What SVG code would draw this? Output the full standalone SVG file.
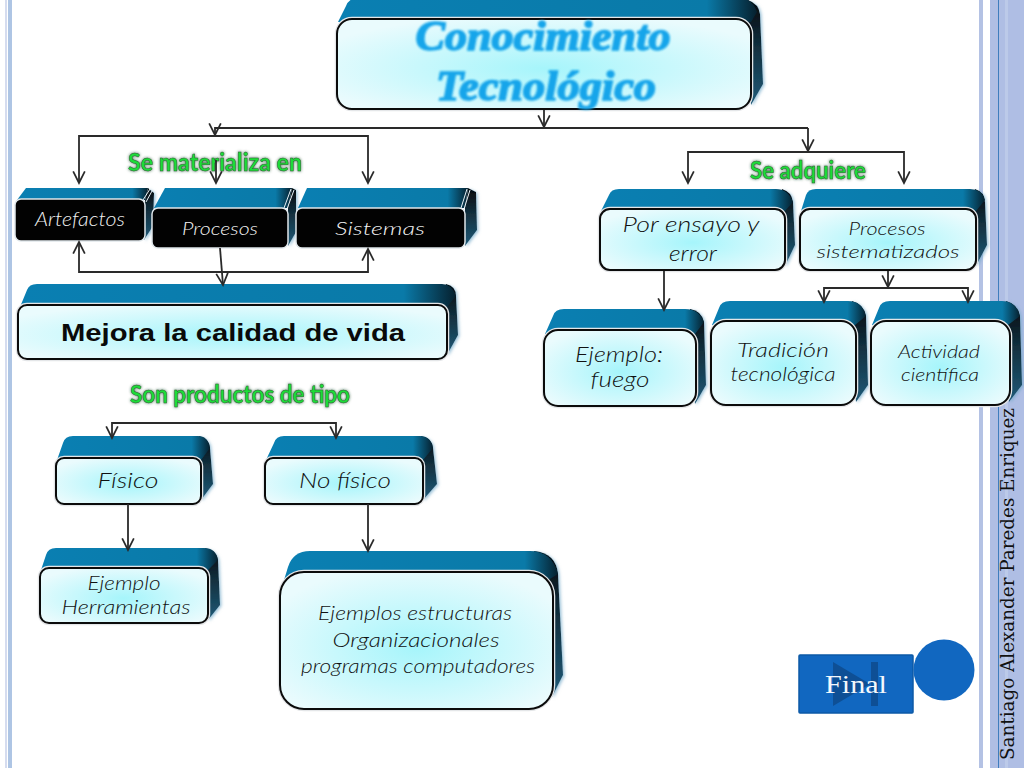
<svg xmlns="http://www.w3.org/2000/svg" width="1024" height="768" viewBox="0 0 1024 768">
<style>
.top{fill:url(#gTop)}
.side{fill:url(#gSide);filter:url(#sh)}
.halo{fill:none;stroke:#e4e6e8;stroke-width:4.5}
.front{fill:url(#gFront);stroke:#0b0b0b;stroke-width:2}
.dark{fill:#020202;stroke:#dfe6ea;stroke-width:1.5}
.stripe{fill:none;stroke:#e8f2f7;stroke-width:1}
.hand{font-family:"Lato","Noto Sans",sans-serif;font-style:italic;font-weight:300;fill:#111;text-anchor:middle}
.w{fill:#f2f2f2}
.green{font-family:"Lato","Noto Sans",sans-serif;font-weight:700;fill:#1fdc38;stroke:#2b5d33;stroke-width:.5;filter:url(#glow)}
.title{font-family:"Liberation Serif",serif;font-style:italic;font-weight:700;font-size:42px;fill:#14a5ea;stroke:#14a5ea;stroke-width:1.6;filter:url(#soft)}
.c{fill:none;stroke:#2a2a2a;stroke-width:1.8;marker-end:url(#v)}
</style>
<defs>
<linearGradient id="gTop" x1="0" x2="1" y1="0" y2="0"><stop offset="0" stop-color="#0a7fb2"/><stop offset=".88" stop-color="#0a7aa8"/><stop offset="1" stop-color="#06202e"/></linearGradient>
<linearGradient id="gSide" x1="0" x2="0" y1="0" y2="1"><stop offset="0" stop-color="#04090d"/><stop offset=".45" stop-color="#12303f"/><stop offset="1" stop-color="#1f5a78"/></linearGradient>
<radialGradient id="gFront" cx=".5" cy=".55" r=".6"><stop offset="0" stop-color="#a6f5fb"/><stop offset="1" stop-color="#eafbfd"/></radialGradient>
<filter id="glow" x="-10%" y="-30%" width="120%" height="160%"><feGaussianBlur in="SourceAlpha" stdDeviation="1.4" result="b"/><feFlood flood-color="#1d4a2a" flood-opacity=".8"/><feComposite in2="b" operator="in" result="s"/><feMerge><feMergeNode in="s"/><feMergeNode in="SourceGraphic"/></feMerge></filter>
<filter id="soft" x="-5%" y="-20%" width="110%" height="140%"><feGaussianBlur stdDeviation="1"/></filter>
<filter id="sh" x="-30%" y="-10%" width="170%" height="120%"><feDropShadow dx="1.5" dy="1" stdDeviation="1.5" flood-color="#6fa8c8" flood-opacity=".7"/></filter>
<marker id="v" markerUnits="userSpaceOnUse" markerWidth="16" markerHeight="14" refX="11" refY="6" orient="auto" viewBox="0 0 12 12"><path d="M1 1 11 6 1 11" fill="none" stroke="#2a2a2a" stroke-width="1.5"/></marker>
</defs>
<rect width="1024" height="768" fill="#fff"/>
<g id="frame">
<rect x="5" y="0" width="2" height="768" fill="#d5dcef"/>
<rect x="8" y="0" width="4" height="768" fill="#aec5e4"/>
<rect x="979" y="0" width="4" height="768" fill="#b4c2e4"/>
<rect x="990" y="0" width="34" height="768" fill="#afbee4"/>
<rect x="998" y="0" width="1" height="768" fill="#3f7dbd"/>
<rect x="1005" y="0" width="3" height="768" fill="#bccae9"/>
</g>
<g id="author"><text transform="translate(1014 760) rotate(-90)" font-family="'DejaVu Serif','Liberation Serif',serif" font-size="19" fill="#111" textLength="352" lengthAdjust="spacingAndGlyphs">Santiago Alexander Paredes Enriquez</text></g>

<g id="n-title">
<path class="side" d="M745 20 748 0Q759 4 760 14L763 84 751 105Z"/>
<path class="top" d="M338 22 346 6Q349 -2 358 -2L740 -2Q752 -2 757 12L751 22Z"/>
<rect class="halo" x="337" y="19" width="414" height="90" rx="15"/><rect class="front" x="337" y="19" width="414" height="90" rx="15"/>
<text class="title" x="543" y="50" text-anchor="middle" textLength="255" lengthAdjust="spacingAndGlyphs">Conocimiento</text>
<text class="title" x="546" y="100" text-anchor="middle" textLength="220" lengthAdjust="spacingAndGlyphs">Tecnológico</text>
</g>
<g id="n-artefactos">
<path class="side" d="M145 200 148 188 154 193 153 226 144 240Z"/>
<polygon class="top" points="17,200 26,188 148,188 145,200"/>
<polyline class="stripe" points="143,200 150,189"/><polyline class="stripe" points="146,202 152,191"/>
<rect class="dark" x="15" y="199" width="130" height="42" rx="6"/>
<text class="hand w" font-size="19" x="80" y="226" textLength="90" lengthAdjust="spacingAndGlyphs">Artefactos</text>
</g>
<g id="n-procesos">
<path class="side" d="M288 208 292 188 296 190 296 232 288 246Z"/>
<polygon class="top" points="154,208 165,188 292,188 288,208"/>
<polyline class="stripe" points="284,208 291,189"/><polyline class="stripe" points="287,209 294,190"/>
<rect class="dark" x="152" y="208" width="136" height="40" rx="6"/>
<text class="hand w" font-size="18" x="220" y="235" textLength="76" lengthAdjust="spacingAndGlyphs">Procesos</text>
</g>
<g id="n-sistemas">
<path class="side" d="M465 208 468 188 476 192 477 230 465 246Z"/>
<polygon class="top" points="298,208 307,188 468,188 465,208"/>
<polyline class="stripe" points="461,208 467,189"/><polyline class="stripe" points="464,209 470,190"/>
<rect class="dark" x="296" y="208" width="169" height="40" rx="6"/>
<text class="hand w" font-size="18" x="380" y="235" textLength="90" lengthAdjust="spacingAndGlyphs">Sistemas</text>
</g>
<g id="n-mejora">
<path class="side" d="M441 307 446 284Q456 286 456 296L458 335 447 355Z"/>
<path class="top" d="M20 307 27 290Q29 284 37 284L442 284Q452 284 456 296L447 307Z"/>
<rect class="halo" x="18" y="305" width="429" height="54" rx="9"/><rect class="front" x="18" y="305" width="429" height="54" rx="9"/>
<text x="233" y="341" font-family="'Liberation Sans',sans-serif" font-weight="700" font-size="24" fill="#0a0a0a" text-anchor="middle" textLength="344" lengthAdjust="spacingAndGlyphs">Mejora la calidad de vida</text>
</g>
<g id="n-ensayo">
<path class="side" d="M780 211 782 189Q792 192 793 202L795 245 785 266Z"/>
<path class="top" d="M601 211 609 195Q611 189 619 189L776 189Q788 189 793 202L785 211Z"/>
<rect class="halo" x="600" y="209" width="185" height="61" rx="10"/><rect class="front" x="600" y="209" width="185" height="61" rx="10"/>
<text class="hand" font-size="21" x="691" y="232" textLength="137" lengthAdjust="spacingAndGlyphs">Por ensayo y</text>
<text class="hand" font-size="21" x="693" y="261" textLength="48" lengthAdjust="spacingAndGlyphs">error</text>
</g>
<g id="n-sistematizados">
<path class="side" d="M971 211 975 189Q985 192 985 202L987 245 976 266Z"/>
<path class="top" d="M801 211 806 195Q808 189 816 189L970 189Q982 189 985 200L976 211Z"/>
<rect class="halo" x="800" y="209" width="176" height="61" rx="10"/><rect class="front" x="800" y="209" width="176" height="61" rx="10"/>
<text class="hand" font-size="18" x="887" y="235" textLength="77" lengthAdjust="spacingAndGlyphs">Procesos</text>
<text class="hand" font-size="18" x="888" y="258" textLength="143" lengthAdjust="spacingAndGlyphs">sistematizados</text>
</g>
<g id="n-fuego">
<path class="side" d="M688 334 690 309Q702 311 704 322L706 385 695 404Z"/>
<path class="top" d="M545 334 553 316Q555 309 564 309L685 309Q699 309 704 322L695 334Z"/>
<rect class="halo" x="544" y="330" width="152" height="76" rx="14"/><rect class="front" x="544" y="330" width="152" height="76" rx="14"/>
<text class="hand" font-size="22" x="619" y="362" textLength="88" lengthAdjust="spacingAndGlyphs">Ejemplo:</text>
<text class="hand" font-size="22" x="620" y="387" textLength="59" lengthAdjust="spacingAndGlyphs">fuego</text>
</g>
<g id="n-tradicion">
<path class="side" d="M848 325 852 301Q864 304 866 316L868 385 856 402Z"/>
<path class="top" d="M712 325 719 308Q721 301 730 301L848 301Q862 301 866 316L855 325Z"/>
<rect class="halo" x="711" y="321" width="145" height="84" rx="15"/><rect class="front" x="711" y="321" width="145" height="84" rx="15"/>
<text class="hand" font-size="19" x="783" y="357" textLength="92" lengthAdjust="spacingAndGlyphs">Tradición</text>
<text class="hand" font-size="19" x="783" y="381" textLength="105" lengthAdjust="spacingAndGlyphs">tecnológica</text>
</g>
<g id="n-actividad">
<path class="side" d="M1002 325 1006 301Q1018 304 1020 316L1022 385 1009 402Z"/>
<path class="top" d="M872 325 879 308Q881 301 890 301L1002 301Q1016 301 1020 316L1008 325Z"/>
<rect class="halo" x="871" y="321" width="139" height="84" rx="15"/><rect class="front" x="871" y="321" width="139" height="84" rx="15"/>
<text class="hand" font-size="17" x="939" y="358" textLength="82" lengthAdjust="spacingAndGlyphs">Actividad</text>
<text class="hand" font-size="17" x="940" y="381" textLength="78" lengthAdjust="spacingAndGlyphs">científica</text>
</g>
<g id="n-fisico">
<path class="side" d="M195 460 199 436Q209 438 210 448L213 484 201 500Z"/>
<path class="top" d="M57 460 63 443Q65 436 73 436L198 436Q208 436 210 448L201 460Z"/>
<rect class="halo" x="56" y="458" width="145" height="46" rx="8"/><rect class="front" x="56" y="458" width="145" height="46" rx="8"/>
<text class="hand" font-size="21" x="128" y="488" textLength="61" lengthAdjust="spacingAndGlyphs">Físico</text>
</g>
<g id="n-nofisico">
<path class="side" d="M417 460 421 436Q432 438 433 448L437 484 423 500Z"/>
<path class="top" d="M266 460 274 443Q276 436 284 436L420 436Q431 436 433 448L423 460Z"/>
<rect class="halo" x="265" y="458" width="158" height="46" rx="8"/><rect class="front" x="265" y="458" width="158" height="46" rx="8"/>
<text class="hand" font-size="21" x="345" y="488" textLength="92" lengthAdjust="spacingAndGlyphs">No físico</text>
</g>
<g id="n-herramientas">
<path class="side" d="M202 570 205 548Q216 550 218 560L220 605 208 620Z"/>
<path class="top" d="M41 570 46 555Q48 548 56 548L204 548Q216 548 218 560L208 570Z"/>
<rect class="halo" x="40" y="568" width="168" height="55" rx="9"/><rect class="front" x="40" y="568" width="168" height="55" rx="9"/>
<text class="hand" font-size="19" x="124" y="590" textLength="73" lengthAdjust="spacingAndGlyphs">Ejemplo</text>
<text class="hand" font-size="19" x="126" y="614" textLength="129" lengthAdjust="spacingAndGlyphs">Herramientas</text>
</g>
<g id="n-ejemplos">
<path class="side" d="M535 580 534 551Q556 553 558 574L563 675 552 697Z"/>
<path class="top" d="M281 590 288 567Q293 551 310 551L530 551Q552 551 558 574L540 585Z"/>
<rect class="halo" x="280" y="572" width="273" height="137" rx="24"/><rect class="front" x="280" y="572" width="273" height="137" rx="24"/>
<text class="hand" font-size="19" x="415" y="620" textLength="194" lengthAdjust="spacingAndGlyphs">Ejemplos estructuras</text>
<text class="hand" font-size="19" x="416" y="647" textLength="167" lengthAdjust="spacingAndGlyphs">Organizacionales</text>
<text class="hand" font-size="19" x="418" y="673" textLength="234" lengthAdjust="spacingAndGlyphs">programas computadores</text>
</g>

<g id="labels">
<text class="green" font-size="25" x="128" y="171" textLength="174" lengthAdjust="spacingAndGlyphs">Se materializa en</text>
<text class="green" font-size="25" x="750" y="179" textLength="116" lengthAdjust="spacingAndGlyphs">Se adquiere</text>
<text class="green" font-size="25" x="130" y="403" textLength="220" lengthAdjust="spacingAndGlyphs">Son productos de tipo</text>
</g>

<g id="connectors">
<path class="c" d="M544 110V127"/>
<path class="c" d="M808 128H215V135"/>
<path class="c" d="M808 128V151"/>
<path class="c" d="M216 136H79V183"/>
<path class="c" d="M216 136H368V183"/>
<path class="c" d="M216 160V183"/>
<path class="c" d="M796 152H688V183"/>
<path class="c" d="M796 152H904V183"/>
<path class="c" d="M220 272H79V242"/>
<path class="c" d="M220 272H368V249"/>
<path class="c" d="M220 248 223 285"/>
<path class="c" d="M664 271V310"/>
<path class="c" d="M888 271V287"/>
<path class="c" d="M888 288H824V302"/>
<path class="c" d="M888 288H968V302"/>
<path class="c" d="M224 423H112V438"/>
<path class="c" d="M224 423H336V438"/>
<path class="c" d="M128 504V550"/>
<path class="c" d="M368 504V551"/>
</g>

<g id="final">
<rect x="799" y="655" width="114" height="58" rx="1" fill="#1167c0" stroke="#0c5aa6" stroke-width="1.5"/>
<polygon points="833,662 870,684 833,706" fill="#0e4f95"/>
<rect x="871" y="662" width="7" height="44" fill="#0e4f95"/>
<text x="856" y="693" font-family="'Liberation Serif',serif" font-size="25" fill="#f4f8fc" text-anchor="middle" textLength="62" lengthAdjust="spacingAndGlyphs">Final</text>
</g>
<g id="circle"><circle cx="944" cy="670" r="30.5" fill="#1167c0"/></g>
</svg>
